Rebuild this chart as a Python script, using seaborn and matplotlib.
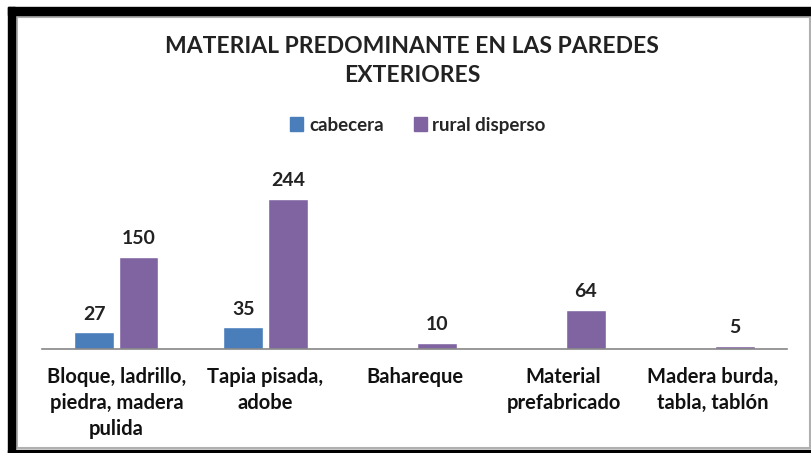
import matplotlib
matplotlib.use("Agg")
import matplotlib.pyplot as plt
from matplotlib.patches import Rectangle, Patch
import seaborn as sns
import pandas as pd

categories = ["Bloque, ladrillo,\npiedra, madera\npulida", "Tapia pisada,\nadobe", "Bahareque",
              "Material\nprefabricado", "Madera burda,\ntabla, tablón"]
cabecera = [27, 35, 0, 0, 0]
rural_disperso = [150, 244, 10, 64, 5]
series = ["cabecera", "rural disperso"]
colors = ["#4A7EBB", "#8064A2"]

df = pd.DataFrame({
    "categoria": categories * 2,
    "serie": [series[0]] * 5 + [series[1]] * 5,
    "valor": cabecera + rural_disperso,
})

sns.set_style("white")
plt.rcParams["font.family"] = ["Lato", "DejaVu Sans"]

fig = plt.figure(figsize=(8.12, 4.53), dpi=100)
ax = fig.add_axes([0.0517, 0.2296, 0.9175, 0.407])

sns.barplot(data=df, x="categoria", y="valor", hue="serie", palette=colors,
            saturation=1, width=0.6, gap=0.12, ax=ax, legend=False)

ax.set_ylim(0, 300)
ax.set_xlim(-0.5, 4.5)
for c in ax.containers:
    labels = [f"{v:g}" if v > 0 else "" for v in c.datavalues]
    ax.bar_label(c, labels=labels, padding=7, fontsize=14, fontweight="bold", color="#222222")

sns.despine(ax=ax, left=True, top=True, right=True)
ax.spines["bottom"].set_color("#868686")
ax.spines["bottom"].set_linewidth(1.2)
ax.set_yticks([])
ax.set_xlabel("")
ax.set_ylabel("")
ax.tick_params(axis="x", length=0, pad=13)
for t in ax.get_xticklabels():
    t.set_fontsize(14.5)
    t.set_fontweight("bold")
    t.set_color("#111111")
    t.set_linespacing(1.38)

fig.text(412 / 812, 1 - 61 / 453, "MATERIAL PREDOMINANTE EN LAS PAREDES\nEXTERIORES",
         ha="center", va="center", fontsize=16.5, fontweight="bold", color="#222222",
         linespacing=1.45)

handles = [Patch(color=colors[0], label=series[0]), Patch(color=colors[1], label=series[1])]
fig.legend(handles=handles, loc="center", bbox_to_anchor=(418 / 812, 1 - 125 / 453), ncol=2,
           frameon=False, handlelength=0.7, handleheight=0.7, handletextpad=0.3,
           columnspacing=1.6, prop={"weight": "bold", "size": 13.5})

# marco de la imagen
W, H = 812, 453
fig.patches.append(Rectangle((8 / W, 0), 7 / W, (H - 7) / H, transform=fig.transFigure,
                             color="black", zorder=5))
fig.patches.append(Rectangle((8 / W, 1 - 15 / H), 1, 8 / H, transform=fig.transFigure,
                             color="black", zorder=5))
fig.patches.append(Rectangle((8 / W, 0), 1, 3 / H, transform=fig.transFigure,
                             color="black", zorder=5))
fig.patches.append(Rectangle((17 / W, 5 / H), (810 - 17) / W, (H - 17 - 5) / H,
                             transform=fig.transFigure, fill=False, edgecolor="#B0B0B0",
                             linewidth=1.5, zorder=4))

fig.savefig("out.png", dpi=100)
